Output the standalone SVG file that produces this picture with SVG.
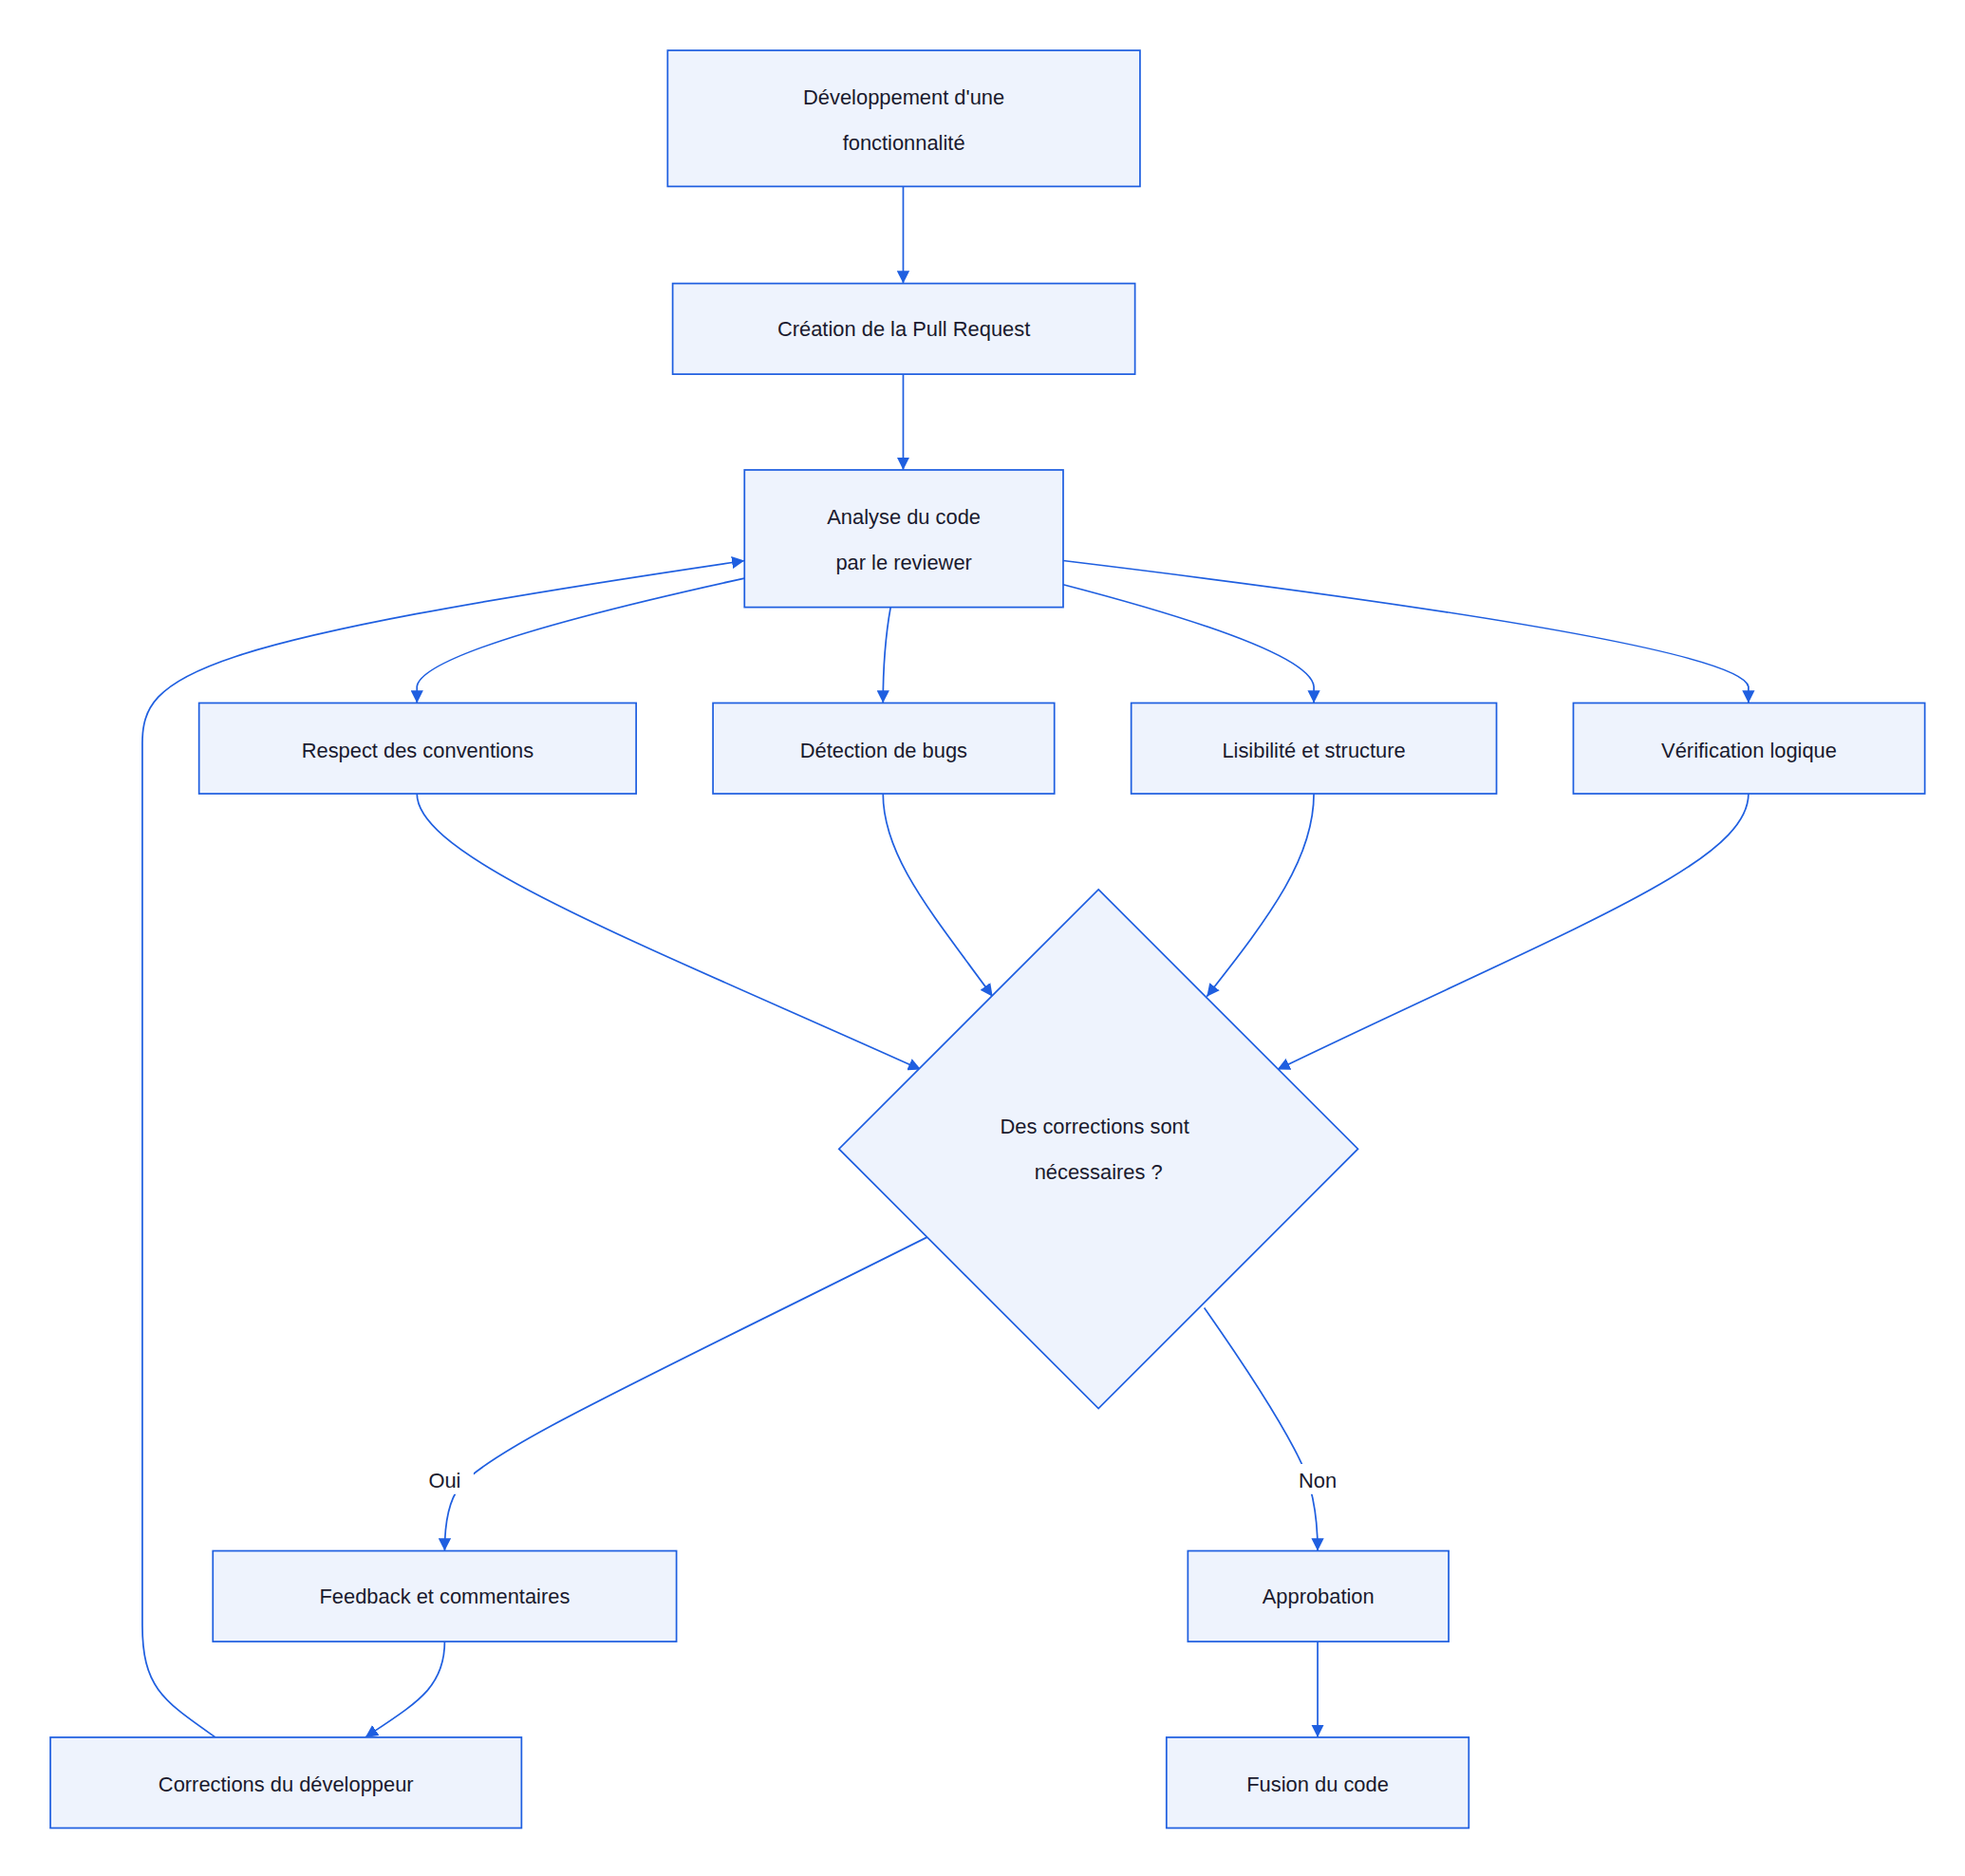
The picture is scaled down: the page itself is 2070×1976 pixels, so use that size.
<svg xmlns="http://www.w3.org/2000/svg" width="2070" height="1976" viewBox="0 0 2070 1976">
<style>
.n rect,.n polygon{fill:#EEF3FD;stroke:#1F5FE0;stroke-width:1.3}
.n text,.lbl{font-family:"Helvetica","Liberation Sans",Arial,sans-serif;font-size:16.5px;fill:#1a1a2e;text-anchor:middle}
#edges path{fill:none;stroke:#1F5FE0;stroke-width:1.3;marker-end:url(#ah)}
</style>
<defs>
<marker id="ah" markerUnits="userSpaceOnUse" viewBox="0 0 10 10" refX="10" refY="5" markerWidth="10" markerHeight="10" orient="auto">
<path d="M0,0 L10,5 L0,10 z" fill="#1F5FE0"/>
</marker>
</defs>
<rect width="2070" height="1976" fill="#fff"/>
<g transform="scale(1.327)">
<g id="edges">
<path d="M717,148 L717,225"/>
<path d="M717,297 L717,373"/>
<path d="M591,459 Q335,515 331,545 L331,558"/>
<path d="M707,482 Q701,515 701,558"/>
<path d="M844,464 Q1040,515 1043,545 L1043,558"/>
<path d="M844,445 Q1380,510 1388,545 L1388,558"/>
<path d="M331,630 C331,680 500,745 731,849"/>
<path d="M701,630 C701,680 740,725 788,791"/>
<path d="M1043,630 C1043,680 1010,725 958,791"/>
<path d="M1388,630 C1388,685 1250,735 1014,849"/>
<path d="M736,982 C500,1100 390,1150 365,1180 Q353,1195 353,1231"/>
<path d="M956,1038 Q1010,1115 1030,1155 Q1046,1185 1046,1231"/>
<path d="M353,1303 C353,1340 330,1352 290,1379"/>
<path d="M171,1379 C130,1350 113,1340 113,1290 L113,590 C113,535 150,510 591,445"/>
<path d="M1046,1303 L1046,1379"/>
</g>
<rect x="330" y="1162" width="46" height="24" fill="#fff"/>
<text class="lbl" x="353" y="1181">Oui</text>
<rect x="1020" y="1162" width="52" height="24" fill="#fff"/>
<text class="lbl" x="1046" y="1181">Non</text>
<g id="dev" class="n"><rect x="530" y="40" width="375" height="108"/><text x="717.5" y="83">Développement d'une</text><text x="717.5" y="119">fonctionnalité</text></g>
<g id="pr" class="n"><rect x="534" y="225" width="367" height="72"/><text x="717.5" y="267">Création de la Pull Request</text></g>
<g id="analyse" class="n"><rect x="591" y="373" width="253" height="109"/><text x="717.5" y="416">Analyse du code</text><text x="717.5" y="452">par le reviewer</text></g>
<g id="respect" class="n"><rect x="158" y="558" width="347" height="72"/><text x="331.5" y="601">Respect des conventions</text></g>
<g id="detection" class="n"><rect x="566" y="558" width="271" height="72"/><text x="701.5" y="601">Détection de bugs</text></g>
<g id="lisibilite" class="n"><rect x="898" y="558" width="290" height="72"/><text x="1043" y="601">Lisibilité et structure</text></g>
<g id="verif" class="n"><rect x="1249" y="558" width="279" height="72"/><text x="1388.5" y="601">Vérification logique</text></g>
<g id="decision" class="n"><polygon points="872,706 1078,912 872,1118 666,912"/><text x="869" y="900">Des corrections sont</text><text x="872" y="936">nécessaires ?</text></g>
<g id="feedback" class="n"><rect x="169" y="1231" width="368" height="72"/><text x="353" y="1273">Feedback et commentaires</text></g>
<g id="approbation" class="n"><rect x="943" y="1231" width="207" height="72"/><text x="1046.5" y="1273">Approbation</text></g>
<g id="corrections" class="n"><rect x="40" y="1379" width="374" height="72"/><text x="227" y="1422">Corrections du développeur</text></g>
<g id="fusion" class="n"><rect x="926" y="1379" width="240" height="72"/><text x="1046" y="1422">Fusion du code</text></g>
</g>
</svg>
